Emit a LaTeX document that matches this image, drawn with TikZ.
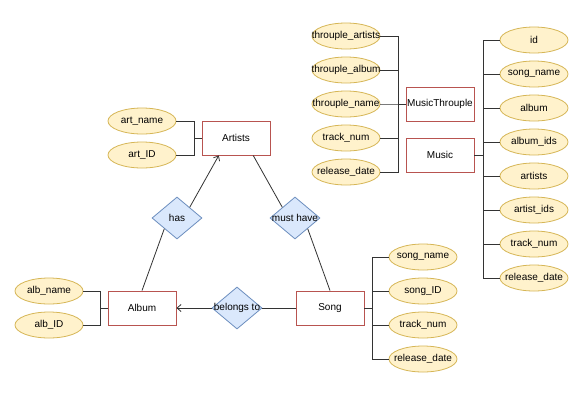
\documentclass[tikz,border=0pt]{standalone}
\usepackage{fontspec}
\setmainfont{Liberation Sans}
\usetikzlibrary{shapes.geometric,arrows.meta,calc}
\definecolor{attrfill}{HTML}{FFF2CC}
\definecolor{attrline}{HTML}{D6B656}
\definecolor{entline}{HTML}{B85450}
\definecolor{relfill}{HTML}{DAE8FC}
\definecolor{relline}{HTML}{6C8EBF}
\definecolor{wire}{HTML}{333333}
\tikzset{
  entity/.style={draw=entline, line width=0.9pt, fill=white, rectangle,
    minimum width=68pt, minimum height=34pt, inner sep=0pt},
  attr/.style={draw=attrline, line width=0.8pt, fill=attrfill, ellipse,
    minimum width=68pt, minimum height=26pt, inner xsep=-14pt, inner ysep=0pt},
  rel/.style={draw=relline, line width=0.8pt, fill=relfill, diamond,
    minimum width=50pt, minimum height=42pt, inner sep=0pt},
  wirestyle/.style={draw=wire, line width=0.8pt},
  openarrow/.style={-{Straight Barb[length=4pt,width=7pt]}},
}
\begin{document}
\begin{tikzpicture}[x=1pt, y=-1pt, font=\fontsize{10}{12}\selectfont]
\useasboundingbox (0,0) rectangle (585,400);
\fill[white] (0,0) rectangle (585,400);

% entities
\node[entity] (artists) at (236,138) {Artists};
\node[entity] (album) at (142,308) {Album};
\node[entity] (song) at (330,308) {Song};
\node[entity] (throuple) at (440,104) {MusicThrouple};
\node[entity] (music) at (440,155) {Music};

% relationships
\node[rel, label=center:has] (has) at (177,218) {};
\node[rel, label=center:must have] (musthave) at (295,218) {};
\node[rel, label=center:belongs to] (belongs) at (237,308) {};

% artist attributes
\node[attr] (artname) at (142,121) {art\_name};
\node[attr] (artid) at (142,155) {art\_ID};
% album attributes
\node[attr] (albname) at (49,291) {alb\_name};
\node[attr] (albid) at (49,325) {alb\_ID};
% song attributes
\node[attr] (sname) at (423,257) {song\_name};
\node[attr] (sid) at (423,291) {song\_ID};
\node[attr] (strack) at (423,325) {track\_num};
\node[attr] (sdate) at (423,359) {release\_date};
% throuple attributes
\node[attr] (tartists) at (346,36) {throuple\_artists};
\node[attr] (talbum) at (346,70) {throuple\_album};
\node[attr] (tname) at (346,104) {throuple\_name};
\node[attr] (ttrack) at (346,138) {track\_num};
\node[attr] (tdate) at (346,172) {release\_date};
% music attributes
\node[attr] (mid) at (534,40) {id};
\node[attr] (msong) at (534,74) {song\_name};
\node[attr] (malbum) at (534,108) {album};
\node[attr] (malbids) at (534,142) {album\_ids};
\node[attr] (martists) at (534,176) {artists};
\node[attr] (martids) at (534,210) {artist\_ids};
\node[attr] (mtrack) at (534,244) {track\_num};
\node[attr] (mdate) at (534,278) {release\_date};

% attribute connectors
\foreach \a in {artname,artid}
  \draw[wirestyle] (\a.east) -| (194,138) -- (artists.west);
\foreach \a in {albname,albid}
  \draw[wirestyle] (\a.east) -| (100,308) -- (album.west);
\foreach \a in {sname,sid,strack,sdate}
  \draw[wirestyle] (song.east) -- (372,308) |- (\a.west);
\foreach \a in {tartists,talbum,tname,ttrack,tdate}
  \draw[wirestyle] (\a.east) -| (398,104) -- (throuple.west);
\foreach \a in {mid,msong,malbum,malbids,martists,martids,mtrack,mdate}
  \draw[wirestyle] (music.east) -- (483,155) |- (\a.west);

% relationship connectors
\draw[wirestyle] (album.north) -- (has.south west);
\draw[wirestyle, openarrow] (has.north east) --
  ($(artists.south west)!0.25!(artists.south east)$);
\draw[wirestyle] ($(artists.south west)!0.75!(artists.south east)$) --
  (musthave.north west);
\draw[wirestyle] (musthave.south east) -- (song.north);
\draw[wirestyle] (song.west) -- (belongs.east);
\draw[wirestyle, openarrow] (belongs.west) -- (album.east);
\end{tikzpicture}
\end{document}
